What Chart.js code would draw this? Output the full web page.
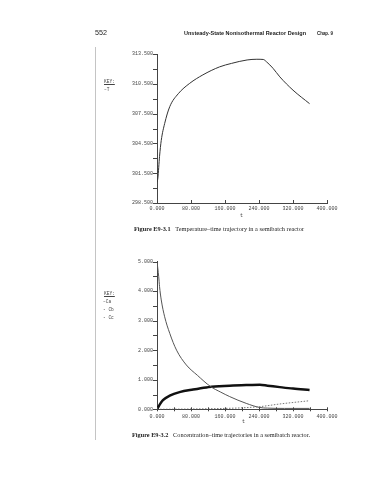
<!DOCTYPE html>
<html><head><meta charset="utf-8">
<script src="https://cdn.jsdelivr.net/npm/chart.js@4.4.1/dist/chart.umd.min.js"></script>
<style>
html,body{margin:0;padding:0;background:#fff;}
#page{position:relative;width:377px;height:480px;overflow:hidden;background:#fff;}
canvas{position:absolute;left:0;}
.t{position:absolute;white-space:nowrap;color:#222;transform-origin:0 50%;font-family:"Liberation Sans",Arial,sans-serif;}
.serif{font-family:"Liberation Serif","Times New Roman",serif;}
.mono{font-family:"Liberation Mono","DejaVu Sans Mono",monospace;color:#444;}
</style></head><body>
<div id="page">
  <div style="position:absolute;left:95px;top:47px;width:1px;height:393px;background:#c4c4c4"></div>
  <canvas id="c1" width="377" height="240" style="top:0"></canvas>
  <canvas id="c2" width="377" height="240" style="top:240px"></canvas>

  <div class="t" data-w="12" style="left:95px;top:29px;font-size:8px;line-height:8px">552</div>
  <div class="t" data-w="122" style="left:184px;top:30px;font-size:6px;line-height:6px;font-weight:bold">Unsteady-State Nonisothermal Reactor Design</div>
  <div class="t" data-w="16" style="left:317px;top:30px;font-size:6px;line-height:6px;font-weight:bold">Chap. 9</div>

  <div class="t mono" style="left:104px;top:79px;font-size:4.5px;line-height:5px;text-decoration:underline">KEY:</div>
  <div class="t mono" style="left:104px;top:87px;font-size:4.5px;line-height:5px">–T</div>

  <div class="t mono" style="left:240px;top:213.5px;font-size:5px;line-height:5px">t</div>

  <div class="t serif" data-w="170" style="left:134px;top:226px;font-size:6px;line-height:6px"><b>Figure E9-3.1</b>&nbsp;&nbsp;&nbsp;Temperature–time trajectory in a semibatch reactor</div>

  <div class="t mono" style="left:104px;top:291px;font-size:4.5px;line-height:5px;text-decoration:underline">KEY:</div>
  <div class="t mono" style="left:103px;top:299px;font-size:4.5px;line-height:5px">–Ca</div>
  <div class="t mono" style="left:103px;top:307px;font-size:4.5px;line-height:5px">- Cb</div>
  <div class="t mono" style="left:103px;top:315px;font-size:4.5px;line-height:5px">- Cc</div>

  <div class="t mono" style="left:242px;top:420px;font-size:5px;line-height:5px">t</div>

  <div class="t serif" data-w="178" style="left:132px;top:432px;font-size:6px;line-height:6px"><b>Figure E9-3.2</b>&nbsp;&nbsp;&nbsp;Concentration–time trajectories in a semibatch reactor.</div>
</div>
<script>
// ---- data ----
const timeT = [0, 2, 6, 10, 18, 30, 50, 77, 108, 147, 175, 212, 235, 250, 258, 273, 289, 320, 359];
const tempT = [300.6, 301.0, 303.2, 304.8, 306.5, 308.2, 309.5, 310.55, 311.4, 312.2, 312.55, 312.9, 312.97, 312.95, 312.7, 312.06, 311.2, 309.86, 308.5];

const timeCa = [0, 4, 6, 10, 18, 30, 46, 69, 95, 126, 150, 171, 210, 242, 260, 300, 359];
const concCa = [5.0, 4.49, 4.15, 3.7, 3.13, 2.57, 2.0, 1.5, 1.15, 0.77, 0.58, 0.43, 0.2, 0.06, 0.04, 0.03, 0.03];

const timeCb = [0, 6, 14, 30, 53, 85, 116, 147, 171, 210, 242, 260, 289, 320, 359];
const concCb = [0, 0.15, 0.31, 0.46, 0.58, 0.67, 0.74, 0.78, 0.8, 0.82, 0.83, 0.8, 0.75, 0.7, 0.65];

const timeCc = [0, 80, 160, 200, 242, 289, 359];
const concCc = [0, 0.01, 0.03, 0.05, 0.09, 0.18, 0.29];

const xTickLabels = ['0.000', '80.000', '160.000', '240.000', '320.000', '400.000'];
const tempTickLabels = ['298.500', '301.500', '304.500', '307.500', '310.500', '313.500'];
const concTickLabels = ['0.000', '1.000', '2.000', '3.000', '4.000', '5.000'];

// ---- helpers ----
const pts = (xs, ys) => xs.map((x, i) => ({x, y: ys[i]}));
const AX = '#444';
const tickFont = {family: '"Liberation Mono","DejaVu Sans Mono",monospace', size: 5, lineHeight: 1};
const labelFrom = list => v => { const s = Number(v).toFixed(3); return list.includes(s) ? s : ''; };

function tickPlugin(xUp, xDown) {
  return {
    id: 'tickMarks',
    afterDraw(chart) {
      const {ctx, chartArea: a, scales: {x, y}} = chart;
      ctx.save(); ctx.strokeStyle = AX; ctx.lineWidth = 1; ctx.beginPath();
      x.ticks.forEach((t, i) => { const p = Math.round(x.getPixelForTick(i)) + 0.5; ctx.moveTo(p, a.bottom + xDown); ctx.lineTo(p, a.bottom - xUp); });
      y.ticks.forEach((t, i) => { const p = Math.round(y.getPixelForTick(i)) + 0.5; ctx.moveTo(a.left - 4, p); ctx.lineTo(a.left + 1, p); });
      ctx.stroke(); ctx.restore();
    }
  };
}

function makeOptions(cfg) {
  return {
    responsive: false, animation: false, devicePixelRatio: 1,
    layout: {padding: cfg.padding},
    plugins: {legend: {display: false}, tooltip: {enabled: false}},
    elements: {point: {radius: 0}, line: {cubicInterpolationMode: 'monotone'}},
    scales: {
      x: {
        type: 'linear', min: 0, max: 400,
        grid: {display: false, drawTicks: false}, border: {display: true, color: AX, width: 1},
        ticks: {stepSize: cfg.xStep, autoSkip: false, maxRotation: 0, padding: cfg.xPad, color: AX, font: tickFont, callback: labelFrom(xTickLabels)},
        afterFit: s => { s.height = 16; }
      },
      y: {
        type: 'linear', min: cfg.yMin, max: cfg.yMax,
        grid: {display: false, drawTicks: false}, border: {display: true, color: AX, width: 1},
        ticks: {stepSize: cfg.yStep, autoSkip: false, padding: 4, color: AX, font: tickFont, callback: labelFrom(cfg.yLabels)},
        afterFit: s => { s.width = 40; }
      }
    }
  };
}

new Chart(document.getElementById('c1'), {
  type: 'line',
  data: {datasets: [{label: 'T', data: pts(timeT, tempT), borderColor: '#333', borderWidth: 1, fill: false}]},
  options: makeOptions({padding: {left: 117, top: 54, right: 50, bottom: 21}, xStep: 80, xPad: 3, yMin: 298.5, yMax: 313.5, yStep: 1.5, yLabels: tempTickLabels}),
  plugins: [tickPlugin(3, 0)]
});

new Chart(document.getElementById('c2'), {
  type: 'line',
  data: {datasets: [
    {label: 'Ca', data: pts(timeCa, concCa), borderColor: '#555', borderWidth: 1, fill: false},
    {label: 'Cb', data: pts(timeCb, concCb), borderColor: '#111', borderWidth: 2.5, fill: false},
    {label: 'Cc', data: pts(timeCc, concCc), borderColor: '#777', borderWidth: 1, borderDash: [1.5, 1.5], fill: false}
  ]},
  options: makeOptions({padding: {left: 117, top: 21.5, right: 50, bottom: 54.7}, xStep: 40, xPad: 5, yMin: 0, yMax: 5, yStep: 0.5, yLabels: concTickLabels}),
  plugins: [tickPlugin(2, 2)]
});

// fit page texts to the widths measured on the reference
document.querySelectorAll('[data-w]').forEach(el => {
  const w = el.getBoundingClientRect().width;
  if (w > 0) el.style.transform = 'scaleX(' + (parseFloat(el.dataset.w) / w) + ')';
});
</script>
</body></html>
